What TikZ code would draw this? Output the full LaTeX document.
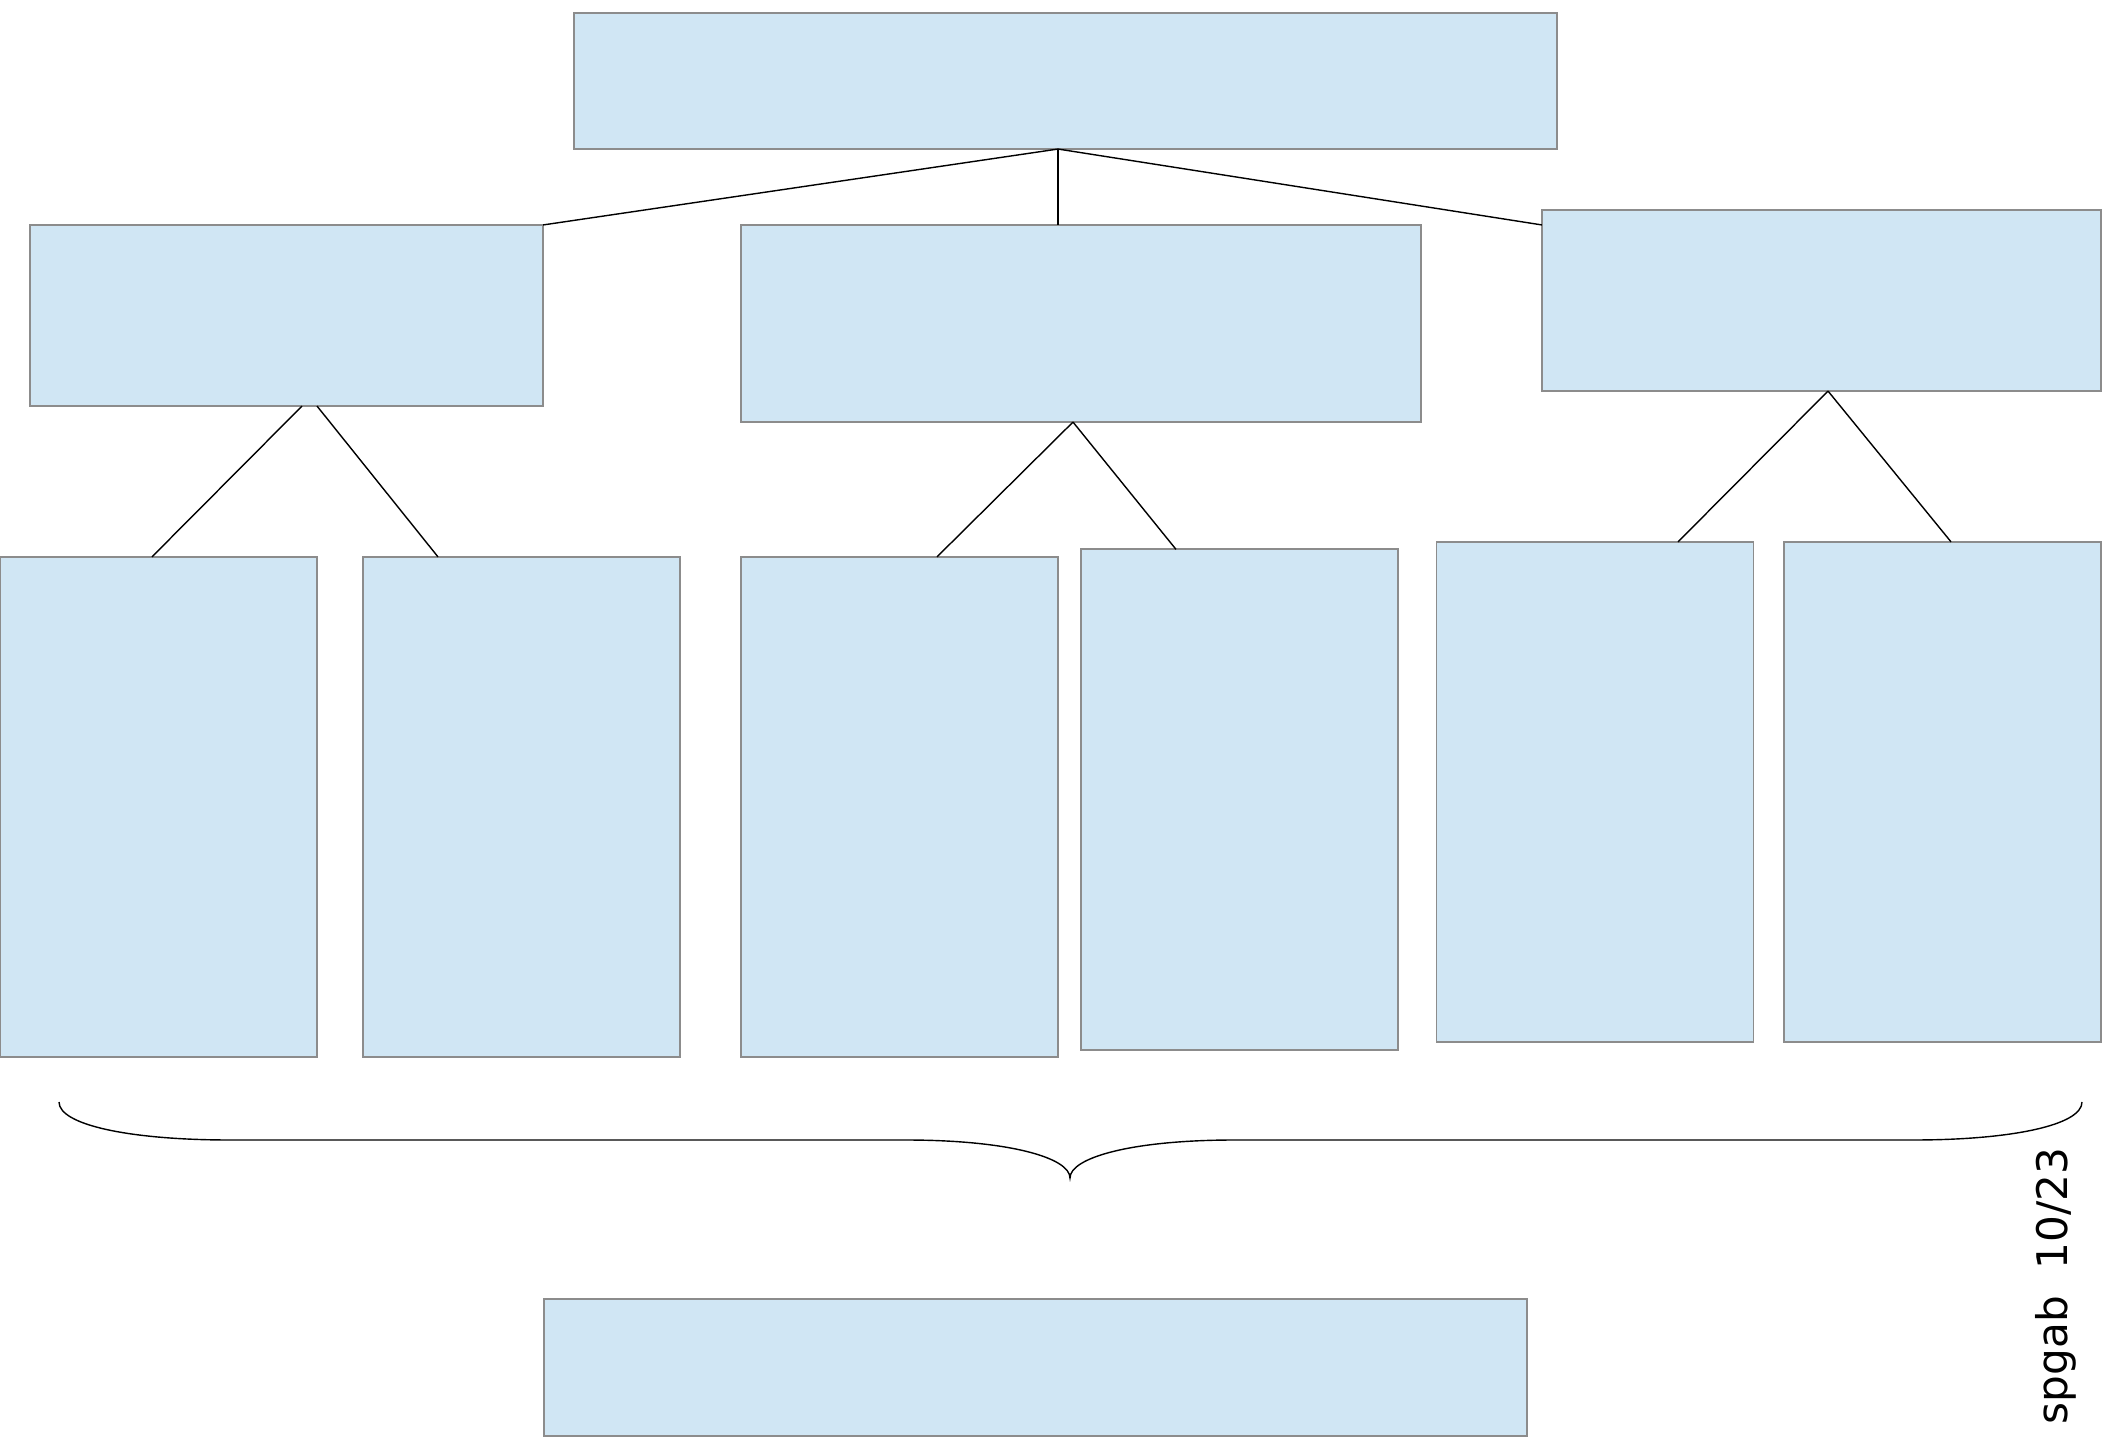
\documentclass[tikz,border=0pt]{standalone}
\usepackage{fontspec}
\usetikzlibrary{positioning}
\newfontfamily\marca{DejaVu Sans}
\definecolor{CajaAzul}{HTML}{D0E6F4}
\definecolor{BordeGris}{HTML}{8C8C8C}

\begin{document}
\begin{tikzpicture}[
    x=0.01cm, y=-0.01cm,
    caja/.style={
      draw=BordeGris,
      fill=CajaAzul,
      line width=0.5pt,
      inner sep=0pt,
      outer sep=0pt
    },
    rama/.style={caja, minimum width=#1, minimum height=1.81cm},
    hoja/.style={caja, minimum width=3.17cm, minimum height=5cm},
    enlace/.style={draw=black, line width=0.4pt}
  ]
    \useasboundingbox (0,0) rectangle (2108,1446);

    % nivel superior
    \node[caja, minimum width=9.83cm, minimum height=1.36cm] (raiz) at (1065.5,81) {};

    % segundo nivel
    \node[rama=5.13cm] (ramaIzq) at (286.5,315.5) {};
    \node[caja, minimum width=6.8cm, minimum height=1.97cm] (ramaCen) at (1081,323.5) {};
    \node[rama=5.59cm] (ramaDer) at (1821.5,300.5) {};

    % tercer nivel
    \node[hoja] (hojaA) at (158.5,807) {};
    \node[hoja] (hojaB) at (521.5,807) {};
    \node[hoja] (hojaC) at (899.5,807) {};
    \node[hoja] (hojaD) at (1239.5,799.5) {};
    \node[hoja] (hojaE) at (1595,792) {};
    \node[hoja] (hojaF) at (1942.5,792) {};

    % caja inferior
    \node[caja, minimum width=9.83cm, minimum height=1.37cm] (base) at (1035.5,1367.5) {};

    % lineas
    \coordinate (nudo) at ([xshift=-0.075cm]raiz.south);
    \draw[enlace] (nudo) -- (ramaIzq.north east);
    \draw[enlace] (nudo) -- (nudo |- ramaCen.north);
    \draw[enlace] (nudo) -- (ramaDer.west |- ramaCen.north);

    \draw[enlace] ([xshift=0.155cm]ramaIzq.south) -- ([xshift=-0.065cm]hojaA.north);
    \draw[enlace] ([xshift=0.305cm]ramaIzq.south) -- ([xshift=-0.835cm]hojaB.north);
    \draw[enlace] ([xshift=-0.08cm]ramaCen.south) -- ([xshift=0.375cm]hojaC.north);
    \draw[enlace] ([xshift=-0.08cm]ramaCen.south) -- ([xshift=-0.635cm]hojaD.north);
    \draw[enlace] ([xshift=0.065cm]ramaDer.south) -- ([xshift=0.83cm]hojaE.north);
    \draw[enlace] ([xshift=0.065cm]ramaDer.south) -- ([xshift=0.085cm]hojaF.north);

    % llave
    \draw[enlace] (59,1102) .. controls (59,1125) and (130,1140) .. (230,1140)
      -- (905,1140) .. controls (1010,1140) and (1070,1158) .. (1070,1178)
      .. controls (1070,1158) and (1130,1140) .. (1235,1140)
      -- (1913,1140) .. controls (2012,1140) and (2082,1125) .. (2082,1102);

    \node[rotate=90, font=\marca\fontsize{12}{14}\selectfont, inner sep=0pt] (firma) at (2056,1286) {spgab\ \ 10/23};
  \end{tikzpicture}
\end{document}
